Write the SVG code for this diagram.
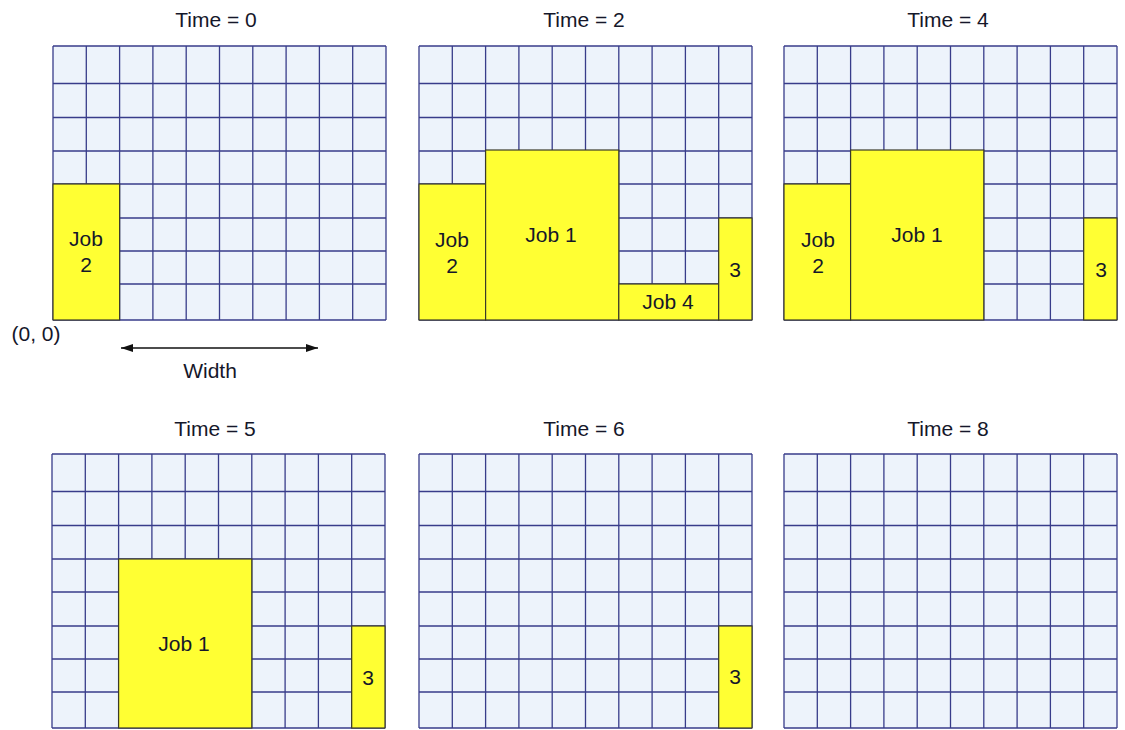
<svg xmlns="http://www.w3.org/2000/svg" width="1125" height="730" viewBox="0 0 1125 730">
<style>
.bg{fill:#edf3fb;stroke:none}
.gl{fill:none;stroke:#383c8a;stroke-width:1.3}
.job{fill:#ffff33;stroke:#3a3a2a;stroke-width:1.2}
.t{font-family:"Liberation Sans",Arial,sans-serif;font-size:21px;fill:#15172a;text-anchor:middle}
.lbl{font-family:"Liberation Sans",Arial,sans-serif;font-size:21px;fill:#15172a;text-anchor:middle}
</style>
<defs>
<g id="grid">
<rect class="bg" x="0" y="0" width="333" height="274"/>
<path class="gl" d="M0 0H333M0 37.5H333M0 71.5H333M0 105H333M0 138H333M0 172H333M0 205H333M0 238H333M0 274H333
M0 0V274M33.3 0V274M66.6 0V274M99.9 0V274M133.2 0V274M166.5 0V274M199.8 0V274M233.1 0V274M266.4 0V274M299.7 0V274M333 0V274"/>
</g>
<marker id="ah" viewBox="0 0 12 8" refX="12" refY="4" markerWidth="12" markerHeight="8" markerUnits="userSpaceOnUse" orient="auto-start-reverse">
<path d="M0 0L12 4L0 8Z" fill="#111"/>
</marker>
</defs>

<g id="panel-t0">
<text class="t" x="216" y="27">Time = 0</text>
<use href="#grid" x="53" y="46"/>
<g id="t0-job2"><rect class="job" x="53" y="184" width="66.6" height="136"/>
<text class="lbl" x="86" y="246">Job</text><text class="lbl" x="86" y="272">2</text></g>
<text class="lbl" x="36" y="341">(0, 0)</text>
<text class="lbl" x="210" y="378">Width</text>
</g>

<g id="panel-t2">
<text class="t" x="584" y="27">Time = 2</text>
<use href="#grid" x="419" y="46"/>
<g id="t2-job2"><rect class="job" x="419" y="184" width="66.6" height="136"/>
<text class="lbl" x="452" y="247">Job</text><text class="lbl" x="452" y="273">2</text></g>
<g id="t2-job1"><rect class="job" x="485.6" y="150" width="133.2" height="170"/>
<text class="lbl" x="551" y="242">Job 1</text></g>
<g id="t2-job4"><rect class="job" x="618.8" y="284" width="99.9" height="36"/>
<text class="lbl" x="668" y="309">Job 4</text></g>
<g id="t2-job3"><rect class="job" x="718.7" y="218" width="33.3" height="102"/>
<text class="lbl" x="735" y="277">3</text></g>
</g>

<g id="panel-t4">
<text class="t" x="948" y="27">Time = 4</text>
<use href="#grid" x="784" y="46"/>
<g id="t4-job2"><rect class="job" x="784" y="184" width="66.6" height="136"/>
<text class="lbl" x="818" y="247">Job</text><text class="lbl" x="818" y="273">2</text></g>
<g id="t4-job1"><rect class="job" x="850.6" y="150" width="133.2" height="170"/>
<text class="lbl" x="917" y="242">Job 1</text></g>
<g id="t4-job3"><rect class="job" x="1083.7" y="218" width="33.3" height="102"/>
<text class="lbl" x="1101" y="277">3</text></g>
</g>

<g id="panel-t5">
<text class="t" x="215" y="436">Time = 5</text>
<use href="#grid" x="52" y="454"/>
<g id="t5-job1"><rect class="job" x="118.6" y="559" width="133.2" height="169"/>
<text class="lbl" x="184" y="651">Job 1</text></g>
<g id="t5-job3"><rect class="job" x="351.7" y="626" width="33.3" height="102"/>
<text class="lbl" x="368" y="685">3</text></g>
</g>

<g id="panel-t6">
<text class="t" x="584" y="436">Time = 6</text>
<use href="#grid" x="419" y="454"/>
<g id="t6-job3"><rect class="job" x="718.7" y="626" width="33.3" height="102"/>
<text class="lbl" x="735" y="684">3</text></g>
</g>

<g id="panel-t8">
<text class="t" x="948" y="436">Time = 8</text>
<use href="#grid" x="784" y="454"/>
</g>

<g id="connectors">
<line x1="121" y1="348" x2="318" y2="348" stroke="#111" stroke-width="1.3" marker-start="url(#ah)" marker-end="url(#ah)"/>
</g>
</svg>
